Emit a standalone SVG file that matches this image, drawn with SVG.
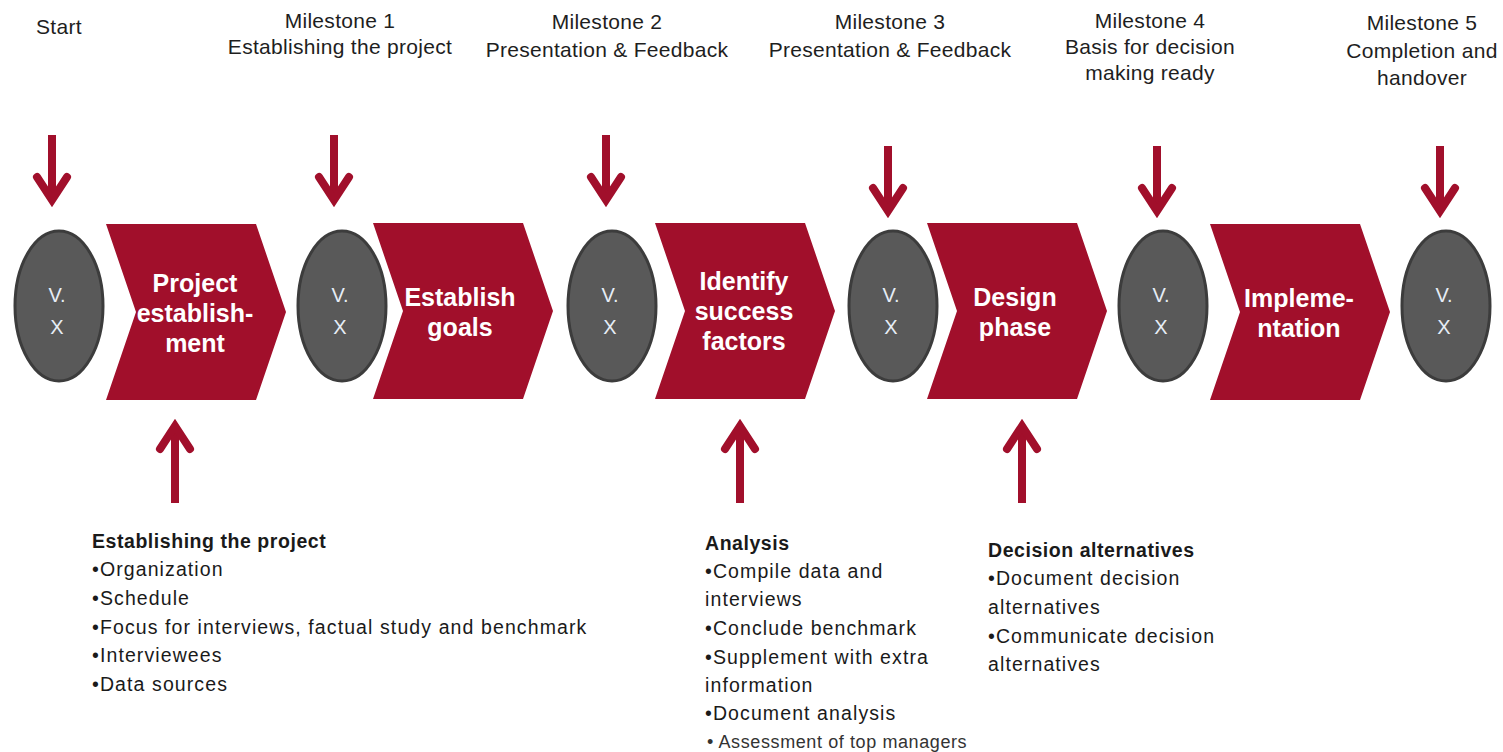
<svg xmlns="http://www.w3.org/2000/svg" width="1503" height="752" viewBox="0 0 1503 752">
  <style>
    .lbl { font-family: "Liberation Sans", Arial, sans-serif; font-size: 21px; letter-spacing: 0.3px; fill: #1e1e1e; text-anchor: middle; }
    .ell { fill: #595959; stroke: #3c3c3c; stroke-width: 3; }
    .ver { font-family: "Liberation Sans", Arial, sans-serif; font-size: 20px; fill: #e6edf6; text-anchor: middle; }
    .chev { fill: #a10f2b; }
    .phase { font-family: "Liberation Sans", Arial, sans-serif; font-weight: bold; font-size: 25px; fill: #ffffff; text-anchor: middle; }
    .arr { fill: none; stroke: #a10f2b; stroke-width: 8; stroke-linecap: round; stroke-linejoin: miter; }
    .shaft { fill: none; stroke: #a10f2b; stroke-width: 8; }
    .note { font-family: "Liberation Sans", Arial, sans-serif; font-size: 19.5px; letter-spacing: 1.1px; fill: #1a1a1a; }
    .note .hd { font-weight: bold; letter-spacing: 0.55px; }
    .note .small { font-size: 18px; letter-spacing: 0.6px; fill: #333333; }
  </style>
  <defs>
    <!-- chevron body: 150 wide, 176 high, 30 px point and notch -->
    <polygon id="chevron" points="0,0 150,0 180,88 150,176 0,176 30,88"/>
  </defs>

  <rect width="1503" height="752" fill="#ffffff"/>

  <!-- milestone captions -->
  <g id="captions">
    <text class="lbl" x="59" y="34">Start</text>
    <text class="lbl" x="340" y="28">Milestone 1</text>
    <text class="lbl" x="340" y="54">Establishing the project</text>
    <text class="lbl" x="607" y="29">Milestone 2</text>
    <text class="lbl" x="607" y="57">Presentation &amp; Feedback</text>
    <text class="lbl" x="890" y="29">Milestone 3</text>
    <text class="lbl" x="890" y="57">Presentation &amp; Feedback</text>
    <text class="lbl" x="1150" y="28">Milestone 4</text>
    <text class="lbl" x="1150" y="54">Basis for decision</text>
    <text class="lbl" x="1150" y="80">making ready</text>
    <text class="lbl" x="1422" y="30">Milestone 5</text>
    <text class="lbl" x="1422" y="58">Completion and</text>
    <text class="lbl" x="1422" y="85">handover</text>
  </g>

  <!-- connectors: milestone arrows down, work package arrows up -->
  <g id="connectors">
    <path class="shaft" d="M52,135 V198"/>
    <path class="arr" d="M37,177 L52,200 L67,177"/>
    <path class="shaft" d="M334,135 V198"/>
    <path class="arr" d="M319,177 L334,200 L349,177"/>
    <path class="shaft" d="M606,135 V198"/>
    <path class="arr" d="M591,177 L606,200 L621,177"/>
    <path class="shaft" d="M888,146 V209"/>
    <path class="arr" d="M873,188 L888,211 L903,188"/>
    <path class="shaft" d="M1157,146 V209"/>
    <path class="arr" d="M1142,188 L1157,211 L1172,188"/>
    <path class="shaft" d="M1440,146 V209"/>
    <path class="arr" d="M1425,188 L1440,211 L1455,188"/>

    <path class="shaft" d="M175,503 V428"/>
    <path class="arr" d="M160,449 L175,426 L190,449"/>
    <path class="shaft" d="M740,503 V428"/>
    <path class="arr" d="M725,449 L740,426 L755,449"/>
    <path class="shaft" d="M1022,503 V428"/>
    <path class="arr" d="M1007,449 L1022,426 L1037,449"/>
  </g>

  <!-- version markers -->
  <g id="v0"><ellipse class="ell" cx="59" cy="306" rx="44" ry="75"/><text class="ver" x="57" y="302">V.</text><text class="ver" x="57" y="334">X</text></g>
  <g id="v1"><ellipse class="ell" cx="342" cy="306" rx="44" ry="75"/><text class="ver" x="340" y="302">V.</text><text class="ver" x="340" y="334">X</text></g>
  <g id="v2"><ellipse class="ell" cx="612" cy="306" rx="44" ry="75"/><text class="ver" x="610" y="302">V.</text><text class="ver" x="610" y="334">X</text></g>
  <g id="v3"><ellipse class="ell" cx="893" cy="306" rx="44" ry="75"/><text class="ver" x="891" y="302">V.</text><text class="ver" x="891" y="334">X</text></g>
  <g id="v4"><ellipse class="ell" cx="1163" cy="306" rx="44" ry="75"/><text class="ver" x="1161" y="302">V.</text><text class="ver" x="1161" y="334">X</text></g>
  <g id="v5"><ellipse class="ell" cx="1446" cy="306" rx="44" ry="75"/><text class="ver" x="1444" y="302">V.</text><text class="ver" x="1444" y="334">X</text></g>

  <!-- phases -->
  <g id="phase-establishment">
    <use href="#chevron" class="chev" x="106" y="224"/>
    <text class="phase" x="195" y="292">Project</text>
    <text class="phase" x="195" y="322">establish-</text>
    <text class="phase" x="195" y="352">ment</text>
  </g>
  <g id="phase-goals">
    <use href="#chevron" class="chev" x="373" y="223"/>
    <text class="phase" x="460" y="306">Establish</text>
    <text class="phase" x="460" y="336">goals</text>
  </g>
  <g id="phase-success">
    <use href="#chevron" class="chev" x="655" y="223"/>
    <text class="phase" x="744" y="290">Identify</text>
    <text class="phase" x="744" y="320">success</text>
    <text class="phase" x="744" y="350">factors</text>
  </g>
  <g id="phase-design">
    <use href="#chevron" class="chev" x="927" y="223"/>
    <text class="phase" x="1015" y="306">Design</text>
    <text class="phase" x="1015" y="336">phase</text>
  </g>
  <g id="phase-implementation">
    <use href="#chevron" class="chev" x="1210" y="224"/>
    <text class="phase" x="1299" y="307">Impleme-</text>
    <text class="phase" x="1299" y="337">ntation</text>
  </g>

  <!-- work package notes -->
  <g id="note-establishing" class="note">
    <text class="hd" x="92" y="548">Establishing the project</text>
    <text x="92" y="576">•Organization</text>
    <text x="92" y="605">•Schedule</text>
    <text x="92" y="634">•Focus for interviews, factual study and benchmark</text>
    <text x="92" y="662">•Interviewees</text>
    <text x="92" y="691">•Data sources</text>
  </g>
  <g id="note-analysis" class="note">
    <text class="hd" x="705" y="550">Analysis</text>
    <text x="705" y="578">•Compile data and</text>
    <text x="705" y="606">interviews</text>
    <text x="705" y="635">•Conclude benchmark</text>
    <text x="705" y="664">•Supplement with extra</text>
    <text x="705" y="692">information</text>
    <text x="705" y="720">•Document analysis</text>
    <text class="small" x="707" y="748">• Assessment of top managers</text>
  </g>
  <g id="note-decision" class="note">
    <text class="hd" x="988" y="557">Decision alternatives</text>
    <text x="988" y="585">•Document decision</text>
    <text x="988" y="614">alternatives</text>
    <text x="988" y="643">•Communicate decision</text>
    <text x="988" y="671">alternatives</text>
  </g>
</svg>
